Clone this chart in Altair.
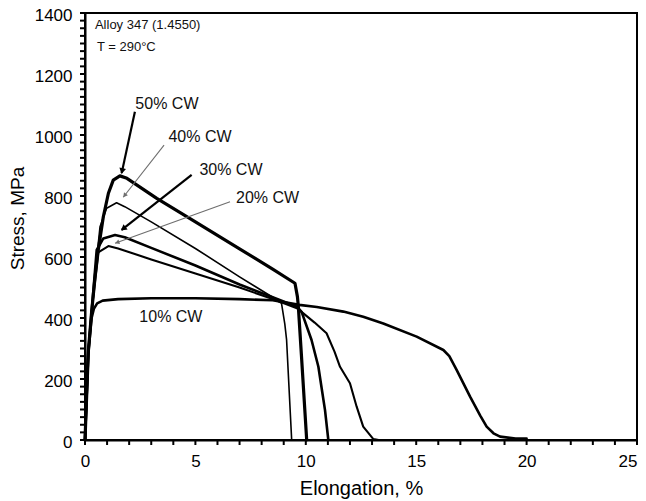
import math
import altair as alt
import pandas as pd

# ---------------- data ----------------
series_names = ["10% CW", "20% CW", "30% CW", "40% CW", "50% CW"]

cw10_x = [0, 0.15, 0.3, 0.4, 0.55, 0.8, 1.5, 3, 5, 7, 8.5, 9.0, 9.7, 10.5, 11.7, 12.6, 13.51, 15.02, 16.23, 16.5, 16.83, 17.44, 17.9, 18.19, 18.5, 18.8, 19.5, 20.0]
cw10_y = [0, 285, 400, 430, 448, 457, 462, 465, 465, 462, 458, 452, 443, 436, 421, 404, 382, 339, 295, 275, 230, 142, 80, 44, 22, 11, 5, 5]

cw20_x = [0, 0.15, 0.3, 0.6, 1.06, 1.5, 3, 5, 7, 8.5, 9.6, 9.89, 10.4, 10.94, 11.3, 11.55, 12.0, 12.3, 12.6, 13.06, 13.3]
cw20_y = [0, 290, 420, 615, 636, 628, 592, 546, 500, 462, 432, 415, 385, 350, 290, 240, 186, 110, 44, 3, 0]

cw30_x = [0, 0.15, 0.3, 0.53, 0.83, 1.36, 1.8, 3, 5, 7, 8.5, 9.6, 9.81, 10.26, 10.57, 10.72, 10.87, 11.02]
cw30_y = [0, 290, 420, 623, 661, 672, 665, 630, 572, 510, 468, 437, 420, 328, 240, 169, 98, 0]

cw40_x = [0, 0.15, 0.3, 0.45, 0.68, 0.98, 1.43, 1.8, 3, 5, 7, 8.5, 8.9, 9.05, 9.13, 9.36]
cw40_y = [0, 290, 420, 540, 699, 760, 778, 765, 715, 628, 535, 468, 448, 380, 328, 0]

cw50_x = [0, 0.15, 0.3, 0.45, 0.6, 0.83, 1.06, 1.28, 1.58, 1.9, 3.25, 5, 7, 8.5, 9.51, 9.62, 9.66, 9.8, 10.04]
cw50_y = [0, 290, 420, 530, 623, 732, 809, 852, 866, 858, 792, 715, 627, 560, 514, 470, 440, 280, 0]

curve_x = [cw10_x, cw20_x, cw30_x, cw40_x, cw50_x]
curve_y = [cw10_y, cw20_y, cw30_y, cw40_y, cw50_y]

# annotation labels
ann_labels = ["50% CW", "40% CW", "30% CW", "20% CW", "10% CW"]
ann_x = [3.71, 5.21, 6.61, 8.27, 3.89]
ann_y = [1102, 993, 885, 792, 403]

# leader lines (label -> curve peak)
lead_names = ["50% CW", "40% CW", "30% CW", "20% CW"]
lead_x1 = [2.26, 3.58, 4.83, 6.57]
lead_y1 = [1076, 967, 869, 781]
lead_x2 = [1.66, 1.73, 1.66, 1.36]
lead_y2 = [875, 796, 689, 645]

info_text = ["Alloy 347 (1.4550)", "T = 290\u00b0C"]
info_x = [0.45, 0.54]
info_y = [1361, 1289]

x_ticks = list(range(0, 26))
y_ticks = list(range(0, 1401, 25))
x_label_ticks = list(range(0, 26, 5))
y_label_ticks = list(range(0, 1401, 200))

# ---------------- layout ----------------
W, H = 552, 427
XMAX, YMAX = 25, 1400
FONT = "Liberation Sans"
TICK = 5

rows = []
for name, xs, ys in zip(series_names, curve_x, curve_y):
    for i, (xv, yv) in enumerate(zip(xs, ys)):
        rows.append({"series": name, "idx": i, "elong": xv, "stress": yv})
df = pd.DataFrame(rows)

ann_df = pd.DataFrame({"label": ann_labels, "x": ann_x, "y": ann_y})
info_df = pd.DataFrame({"label": info_text, "x": info_x, "y": info_y})
xt_df = pd.DataFrame({"v": x_ticks})
yt_df = pd.DataFrame({"v": y_ticks})

# leader lines and arrow heads
px_x = W / XMAX
px_y = H / YMAX
lead_rows = []
head_rows = []
for n, a, b, c, d in zip(lead_names, lead_x1, lead_y1, lead_x2, lead_y2):
    lead_rows.append({"series": n, "x": a, "y": b, "x2": c, "y2": d})
    dxp = (c - a) * px_x
    dyp = -(d - b) * px_y
    L = math.hypot(dxp, dyp)
    ang = math.degrees(math.atan2(dxp, -dyp)) % 360
    back = 3.0
    hx = c - (dxp / L) * back / px_x
    hy = d + (dyp / L) * back / px_y
    head_rows.append({"series": n, "x": hx, "y": hy, "angle": ang})
lead_df = pd.DataFrame(lead_rows)
head_df = pd.DataFrame(head_rows)

xscale = alt.Scale(domain=[0, XMAX], nice=False, zero=False)
yscale = alt.Scale(domain=[0, YMAX], nice=False)

xaxis = alt.Axis(
    values=x_label_ticks,
    format="d",
    title="Elongation, %",
    grid=False,
    ticks=False,
    domainColor="black", domainWidth=2,
    labelFont=FONT, labelFontSize=17, labelColor="black", labelPadding=TICK + 8,
    labelOverlap=False, labelFlush=False,
    labelAlign={"condition": {"test": "datum.value === 25", "value": "right"}, "value": "center"},
    titleFont=FONT, titleFontSize=20, titleFontWeight="normal", titleColor="black",
    titleBaseline="alphabetic", titleY=54,
)
yaxis = alt.Axis(
    values=y_label_ticks,
    format="d",
    title="Stress, MPa",
    grid=False,
    ticks=False,
    domainColor="black", domainWidth=2,
    labelFont=FONT, labelFontSize=17, labelColor="black", labelPadding=TICK + 8,
    labelOverlap=False, labelFlush=False, labelOffset=2,
    titleFont=FONT, titleFontSize=19, titleFontWeight="normal", titleColor="black",
    titleBaseline="alphabetic", titleX=-62, titleY=205,
)

X = lambda f: alt.X(f, scale=xscale, axis=xaxis)
Y = lambda f: alt.Y(f, scale=yscale, axis=yaxis)

lines = alt.Chart(df).mark_line(color="black", strokeJoin="round", strokeCap="round").encode(
    x=X("elong:Q"),
    y=Y("stress:Q"),
    detail="series:N",
    order="idx:Q",
    strokeWidth=alt.StrokeWidth(
        "series:N",
        scale=alt.Scale(type="ordinal", domain=series_names, range=[2.6, 2.1, 2.6, 1.6, 3.2]),
        legend=None,
    ),
)

lead_colors = ["#000000", "#6e6e6e", "#000000", "#6e6e6e"]

lead = alt.Chart(lead_df).mark_rule().encode(
    x=X("x:Q"),
    y=Y("y:Q"),
    x2="x2:Q",
    y2="y2:Q",
    color=alt.Color("series:N", scale=alt.Scale(domain=lead_names, range=lead_colors), legend=None),
    strokeWidth=alt.StrokeWidth("series:N", scale=alt.Scale(type="ordinal", domain=lead_names, range=[2.2, 1.1, 2.2, 1.1]), legend=None),
)

heads = alt.Chart(head_df).mark_point(shape="triangle", filled=True, opacity=1, strokeWidth=0).encode(
    x=X("x:Q"),
    y=Y("y:Q"),
    angle=alt.Angle("angle:Q", scale=None),
    color=alt.Color("series:N", scale=alt.Scale(domain=lead_names, range=lead_colors), legend=None),
    size=alt.Size("series:N", scale=alt.Scale(type="ordinal", domain=lead_names, range=[45, 25, 45, 25]), legend=None),
)

ann = alt.Chart(ann_df).mark_text(font=FONT, fontSize=16, color="#111111", baseline="middle", align="center").encode(
    x=X("x:Q"),
    y=Y("y:Q"),
    text="label:N",
)

info = alt.Chart(info_df).mark_text(font=FONT, fontSize=13, color="#111111", baseline="middle", align="left").encode(
    x=X("x:Q"),
    y=Y("y:Q"),
    text="label:N",
)

xticks_mark = alt.Chart(xt_df).mark_rule(color="black", strokeWidth=2).encode(
    x=X("v:Q"),
    y=alt.value(H),
    y2=alt.value(H + TICK),
)
yticks_mark = alt.Chart(yt_df).mark_rule(color="black", strokeWidth=2).encode(
    y=Y("v:Q"),
    x=alt.value(-TICK),
    x2=alt.value(0),
)

chart = (
    alt.layer(lines, lead, heads, ann, info, xticks_mark, yticks_mark)
    .resolve_scale(color="independent", strokeWidth="independent", size="independent")
    .properties(
        width=W,
        height=H,
        autosize=alt.AutoSizeParams(type="none"),
        padding={"left": 77, "top": 5, "right": 1, "bottom": 61},
        background="white",
    )
    .configure_view(stroke="black", strokeWidth=2)
)

chart.save("out.html", embed_options={"renderer": "svg", "actions": False})
